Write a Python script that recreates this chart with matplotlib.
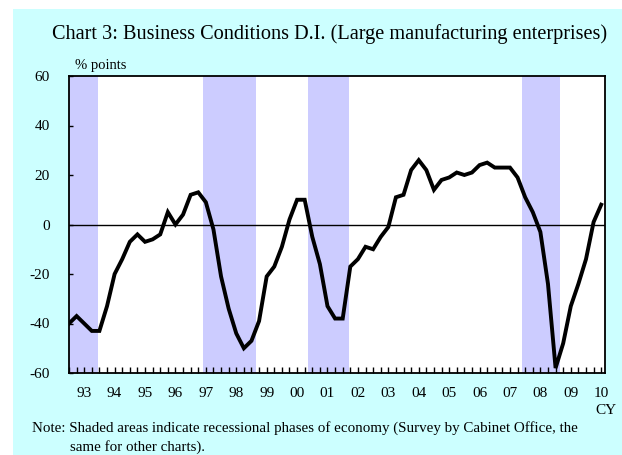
import numpy as np
import matplotlib
matplotlib.use("Agg")
import matplotlib.pyplot as plt
from matplotlib.patches import Rectangle

plt.rcParams['font.family'] = ['Liberation Serif', 'DejaVu Serif']

# Tankan business conditions D.I., large manufacturers, quarterly 1993Q1 - 2010Q3
di_values = [
    -40, -37, -40, -43,   # 93
    -43, -33, -20, -14,   # 94
    -7, -4, -7, -6,       # 95
    -4, 5, 0, 4,          # 96
    12, 13, 9, -2,        # 97
    -21, -34, -44, -50,   # 98
    -47, -39, -21, -17,   # 99
    -9, 2, 10, 10,        # 00
    -5, -16, -33, -38,    # 01
    -38, -17, -14, -9,    # 02
    -10, -5, -1, 11,      # 03
    12, 22, 26, 22,       # 04
    14, 18, 19, 21,       # 05
    20, 21, 24, 25,       # 06
    23, 23, 23, 19,       # 07
    11, 5, -3, -24,       # 08
    -58, -48, -33, -24,   # 09
    -14, 1, 8,            # 10
]
year_labels = ['93', '94', '95', '96', '97', '98', '99', '00', '01',
               '02', '03', '04', '05', '06', '07', '08', '09', '10']

# recession phases, in quarter positions (start, end)
shade_start = [0.0, 17.6, 31.5, 59.6]
shade_end = [3.8, 24.6, 36.8, 64.6]

y_ticks = [60, 40, 20, 0, -20, -40, -60]

fig = plt.figure(figsize=(6.22, 4.55), dpi=100)
fig.patches.append(Rectangle((13 / 622, 0), 1, 1 - 9 / 455, transform=fig.transFigure,
                             facecolor='#ccffff', edgecolor='none', zorder=-10))

ax = fig.add_axes([69 / 622, 1 - 373 / 455, 536 / 622, 297 / 455])
ax.set_zorder(5)
ax.set_facecolor('white')

x = np.arange(len(di_values))
for s, e in zip(shade_start, shade_end):
    ax.axvspan(s, e, color='#ccccff', lw=0, zorder=1)

ax.axhline(0, color='black', lw=1.0, zorder=2)
ax.plot(x, di_values, color='black', lw=2.8, solid_joinstyle='miter', zorder=3)

ax.set_xlim(0, 70.5)
ax.set_ylim(-60, 60)

ax.set_yticks(y_ticks)
ax.set_yticklabels([str(v) for v in y_ticks])
ax.tick_params(axis='y', direction='in', length=3, width=1, pad=14, labelsize=11)

labels = ['' for _ in x]
for k, lab in enumerate(year_labels):
    labels[4 * k + 2] = lab
ax.set_xticks(x)
ax.set_xticklabels(labels)
ax.tick_params(axis='x', direction='in', length=4, width=1, pad=10, labelsize=11)

for sp in ax.spines.values():
    sp.set_linewidth(1.3)
    sp.set_zorder(4)

fig.text(330 / 622, 1 - 34 / 455,
         'Chart 3: Business Conditions D.I. (Large manufacturing enterprises)',
         ha='center', va='center', fontsize=14.6)
fig.text(75 / 622, 1 - 66 / 455, '% points', ha='left', va='center', fontsize=10.5)
fig.text(606 / 622, 1 - 410 / 455, 'CY', ha='center', va='center', fontsize=11)
fig.text(32 / 622, 1 - 428 / 455,
         'Note: Shaded areas indicate recessional phases of economy (Survey by Cabinet Office, the',
         ha='left', va='center', fontsize=10.8)
fig.text(70 / 622, 1 - 447 / 455, 'same for other charts).',
         ha='left', va='center', fontsize=10.8)

fig.savefig('out.png', dpi=100)
